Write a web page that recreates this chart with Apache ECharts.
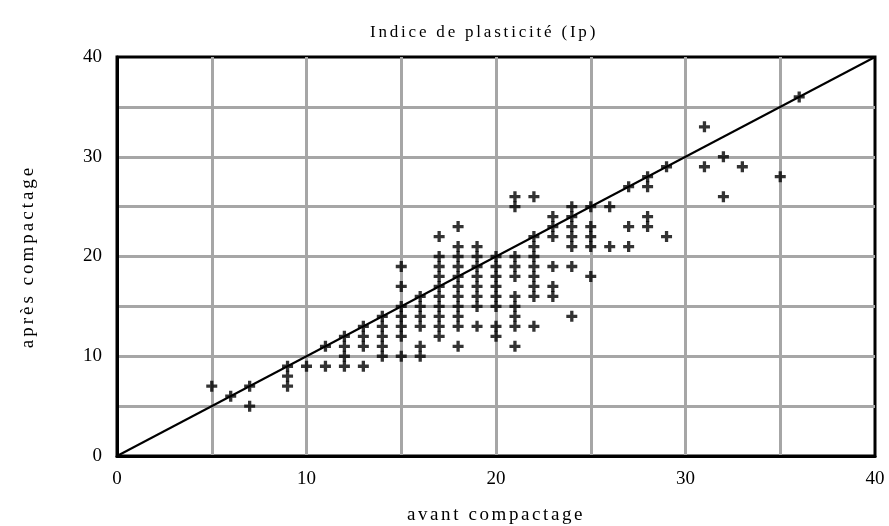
<!DOCTYPE html>
<html>
<head>
<meta charset="utf-8">
<script src="https://cdn.jsdelivr.net/npm/echarts@6/dist/echarts.min.js"></script>
<style>
  html, body { margin: 0; padding: 0; background: #fff; }
  #chart { width: 889px; height: 526px; }
</style>
</head>
<body>
<div id="chart"></div>
<script>
// Plasticity index of each sample, before (avant) and after (après) compaction
const avant = [
  5, 6, 7, 7,
  9, 9, 9, 10, 11, 11,
  12, 12, 12, 12,
  13, 13, 13, 13,
  14, 14, 14, 14, 14,
  15, 15, 15, 15, 15, 15, 15,
  16, 16, 16, 16, 16, 16,
  17, 17, 17, 17, 17, 17, 17, 17, 17, 17,
  18, 18, 18, 18, 18, 18, 18, 18, 18, 18, 18,
  19, 19, 19, 19, 19, 19, 19, 19,
  20, 20, 20, 20, 20, 20, 20, 20,
  21, 21, 21, 21, 21, 21, 21, 21, 21, 21,
  22, 22, 22, 22, 22, 22, 22, 22, 22,
  23, 23, 23, 23, 23, 23,
  24, 24, 24, 24, 24, 24, 24,
  25, 25, 25, 25, 25,
  26, 26,
  27, 27, 27,
  28, 28, 28, 28,
  29, 29,
  31, 31, 32, 32, 33, 35, 36
];
const apres = [
  7, 6, 7, 5,
  9, 8, 7, 9, 11, 9,
  12, 11, 10, 9,
  13, 12, 11, 9,
  14, 13, 12, 11, 10,
  19, 17, 15, 14, 13, 12, 10,
  16, 15, 14, 13, 11, 10,
  22, 20, 19, 18, 17, 16, 15, 14, 13, 12,
  23, 21, 20, 19, 18, 17, 16, 15, 14, 13, 11,
  21, 20, 19, 18, 17, 16, 15, 13,
  20, 19, 18, 17, 16, 15, 13, 12,
  26, 25, 20, 19, 18, 16, 15, 14, 13, 11,
  26, 22, 21, 20, 19, 18, 17, 16, 13,
  24, 23, 22, 19, 17, 16,
  25, 24, 23, 22, 21, 19, 14,
  25, 23, 22, 21, 18,
  25, 21,
  27, 23, 21,
  28, 27, 24, 23,
  29, 22,
  33, 29, 30, 26, 29, 28, 36
];
// Reference line: après = avant
const identityLine = [[0, 0], [40, 40]];
const axisMin = 0, axisMax = 40, labelStep = 10, gridStep = 5;

const titleText = 'Indice de plasticité (Ip)';
const xName = 'avant compactage';
const yName = 'après compactage';

const points = avant.map((v, i) => [v, apres[i]]);
const serif = '"Liberation Serif", "Times New Roman", serif';
const plusPath = 'path://M3.5,0H6.5V3.5H10V6.5H6.5V10H3.5V6.5H0V3.5H3.5Z';

// Wider tracking for the title and the two axis names only; every other
// string is drawn with normal spacing (canvas letterSpacing)
const tracking = { [titleText]: '2.8px', [xName]: '2.6px', [yName]: '3px' };
const baseFillText = CanvasRenderingContext2D.prototype.fillText;
CanvasRenderingContext2D.prototype.fillText = function (txt, x, y, maxWidth) {
  if ('letterSpacing' in this) {
    const sp = tracking[txt] || '0px';
    if (this.letterSpacing !== sp) {
      this.letterSpacing = sp;
      this.font = this.font;
    }
  }
  return baseFillText.apply(this, arguments);
};

const gridLine = { show: true, showMinLine: false, showMaxLine: false,
  lineStyle: { color: '#a6a6a6', width: 3 } };

function valueAxis(name, isX) {
  return {
    type: 'value', min: axisMin, max: axisMax, interval: gridStep,
    name: name, nameLocation: 'middle',
    nameGap: isX ? 50 : 79,
    nameTextStyle: { fontFamily: serif, fontSize: 19, color: '#000' },
    axisLine: { show: true, onZero: false, lineStyle: { color: '#000', width: 3 } },
    axisTick: { show: false },
    axisLabel: {
      fontFamily: serif, fontSize: 19, color: '#000',
      margin: isX ? 14 : 15,
      formatter: v => (v % labelStep === 0 ? String(v) : '')
    },
    splitLine: gridLine
  };
}

const chart = echarts.init(document.getElementById('chart'), null, { renderer: 'canvas' });
chart.setOption({
  backgroundColor: '#fff',
  animation: false,
  title: {
    text: titleText, left: 370, top: 24, padding: 0,
    textStyle: { fontFamily: serif, fontSize: 17, fontWeight: 'normal', color: '#000' }
  },
  grid: { left: 117, right: 14, top: 57, bottom: 70, show: true,
    outerBoundsMode: 'none', containLabel: false,
    borderColor: '#000', borderWidth: 3, backgroundColor: '#fff' },
  xAxis: valueAxis(xName, true),
  yAxis: valueAxis(yName, false),
  series: [
    {
      type: 'line', data: identityLine, symbol: 'none', silent: true,
      lineStyle: { color: '#000', width: 2 }, z: 2
    },
    {
      type: 'scatter', data: points, symbol: plusPath, symbolSize: 11,
      itemStyle: { color: '#000' }, z: 3
    }
  ]
});
</script>
</body>
</html>
